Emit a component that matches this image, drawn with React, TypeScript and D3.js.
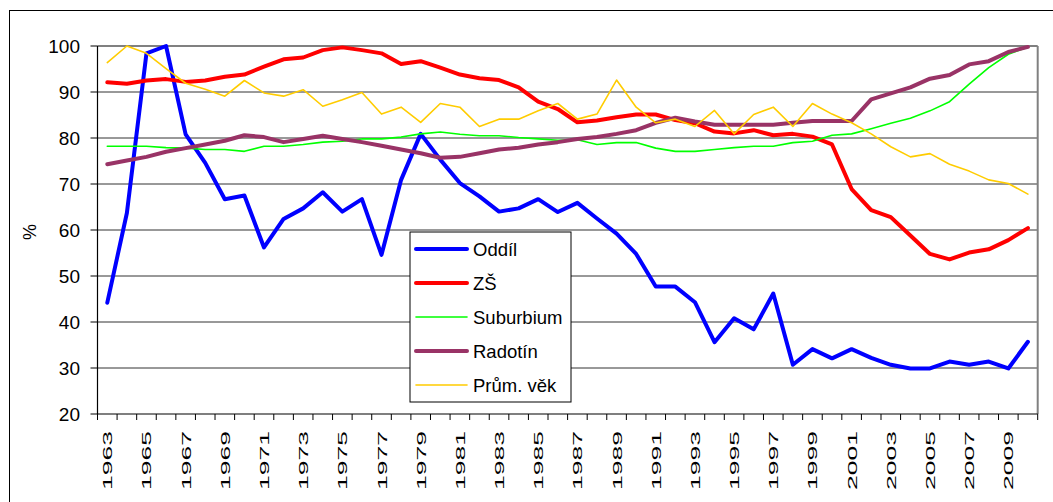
import React from 'react';
import * as d3 from 'd3';

// data
const years = d3.range(1963, 2011);

const oddil = [44.2, 63.7, 98.4, 100, 80.8, 74.6, 66.7, 67.5, 56.2, 62.4, 64.7, 68.2, 64.0, 66.7, 54.6, 70.9, 80.9, 75.3, 70.2, 67.3, 64.0, 64.7, 66.7, 63.9, 65.9, 62.5, 59.2, 54.8, 47.7, 47.7, 44.3, 35.6, 40.8, 38.4, 46.2, 30.7, 34.1, 32.1, 34.1, 32.2, 30.7, 29.9, 29.9, 31.4, 30.7, 31.4, 29.9, 35.7];
const zs = [92.1, 91.8, 92.5, 92.8, 92.2, 92.5, 93.3, 93.8, 95.5, 97.1, 97.5, 99.1, 99.7, 99.1, 98.4, 96.1, 96.7, 95.3, 93.8, 93.0, 92.6, 91.0, 87.9, 86.3, 83.4, 83.8, 84.5, 85.1, 85.1, 83.9, 83.2, 81.4, 81.0, 81.7, 80.6, 80.9, 80.3, 78.6, 68.9, 64.3, 62.8, 58.8, 54.8, 53.6, 55.1, 55.8, 57.8, 60.4];
const suburbium = [78.2, 78.2, 78.2, 77.9, 77.8, 77.5, 77.5, 77.1, 78.2, 78.2, 78.6, 79.1, 79.3, 79.8, 79.8, 80.2, 80.9, 81.3, 80.8, 80.5, 80.5, 80.1, 79.8, 79.5, 79.6, 78.6, 79.0, 79.0, 77.8, 77.1, 77.1, 77.5, 77.9, 78.2, 78.2, 79.0, 79.3, 80.6, 80.9, 82.0, 83.2, 84.3, 85.9, 87.9, 91.7, 95.3, 98.2, 99.8];
const radotin = [74.3, 75.1, 75.9, 77.0, 77.8, 78.6, 79.4, 80.6, 80.2, 79.1, 79.8, 80.5, 79.8, 79.1, 78.3, 77.5, 76.7, 75.7, 75.9, 76.7, 77.5, 77.9, 78.6, 79.1, 79.8, 80.2, 80.9, 81.7, 83.3, 84.4, 83.6, 82.9, 82.9, 82.9, 82.9, 83.3, 83.7, 83.7, 83.7, 88.4, 89.7, 91.0, 92.9, 93.7, 96.0, 96.7, 98.7, 99.8];
const prumVek = [96.4, 100, 98.4, 95.1, 91.9, 90.6, 89.1, 92.5, 89.8, 89.1, 90.5, 86.9, 88.3, 89.9, 85.2, 86.7, 83.4, 87.5, 86.7, 82.5, 84.1, 84.1, 85.9, 87.5, 84.1, 85.2, 92.6, 86.7, 83.3, 84.1, 82.5, 86.0, 80.9, 85.1, 86.7, 82.5, 87.5, 85.2, 83.3, 80.9, 78.1, 75.9, 76.6, 74.3, 72.8, 70.9, 70.1, 67.8];

const yTicks = [20, 30, 40, 50, 60, 70, 80, 90, 100];

const series = [
  {name: 'Oddíl', values: oddil, color: '#0000ff', width: 4},
  {name: 'ZŠ', values: zs, color: '#ff0000', width: 4},
  {name: 'Suburbium', values: suburbium, color: '#00ff00', width: 1.6},
  {name: 'Radotín', values: radotin, color: '#993366', width: 4},
  {name: 'Prům. věk', values: prumVek, color: '#ffcc00', width: 1.6},
];

// layout
const W = 1053, H = 502;
const left = 97.5, right = 1037.7, top = 46, bottom = 414;

export default function App() {
  const x = d3.scaleBand<number>().domain(years).range([left, right]);
  const y = d3.scaleLinear().domain([20, 100]).range([bottom, top]);
  const cx = (yr: number) => (x(yr) as number) + x.bandwidth() / 2;

  const line = (vals: number[]) =>
    d3.line<number>()
      .x((_, i) => cx(years[i]))
      .y(d => y(d))(vals) as string;

  const boundaries = d3.range(years.length + 1).map(i => left + i * x.bandwidth());

  const legX = 410, legY = 232, legW = 161, legH = 170, rowH = 34;

  return (
    <div style={{position: 'absolute', left: 0, top: 0}}>
      <svg width={W} height={H} style={{display: 'block', fontFamily: 'Liberation Sans, Arial, sans-serif'}}>
        <rect x={0} y={0} width={W} height={H} fill="#fff" />
        <rect x={9.5} y={10.5} width={W + 10} height={H + 10} fill="none" stroke="#000" strokeWidth={1} />

        {/* grid */}
        {yTicks.filter(t => t > 20 && t < 100).map(t => (
          <line key={t} x1={left} x2={right} y1={y(t)} y2={y(t)} stroke="#333" strokeWidth={1} />
        ))}
        <line x1={left} x2={right} y1={y(100)} y2={y(100)} stroke="#808080" strokeWidth={2} />
        <line x1={right} x2={right} y1={top} y2={bottom} stroke="#808080" strokeWidth={2} />

        {/* y axis */}
        <line x1={left} x2={left} y1={top} y2={bottom} stroke="#000" strokeWidth={1.2} />
        {yTicks.map(t => (
          <g key={t}>
            <line x1={left - 7} x2={left} y1={y(t)} y2={y(t)} stroke="#000" />
            <text x={80} y={y(t) + 6.5} textAnchor="end" fontSize={19} fill="#000">{t}</text>
          </g>
        ))}
        <text transform={`translate(36,232) rotate(-90)`} textAnchor="middle" fontSize={18}>%</text>

        {/* x axis */}
        <line x1={left} x2={right} y1={bottom} y2={bottom} stroke="#000" strokeWidth={1.2} />
        {boundaries.map((b, i) => (
          <line key={i} x1={b} x2={b} y1={bottom} y2={bottom + 6} stroke="#000" />
        ))}
        {years.filter((_, i) => i % 2 === 0).map(yr => (
          <text key={yr} transform={`translate(${cx(yr) + 5},${431}) rotate(-90)`} textAnchor="end"
            fontSize={13.5} textLength={59} lengthAdjust="spacingAndGlyphs">{yr}</text>
        ))}

        {/* legend */}
        <rect x={legX} y={legY} width={legW} height={legH} fill="#fff" stroke="#000" strokeWidth={1} />

        {/* series */}
        {series.map(s => (
          <path key={s.name} d={line(s.values)} fill="none" stroke={s.color} strokeWidth={s.width}
            strokeLinejoin="round" strokeLinecap="round" />
        ))}

        {series.map((s, i) => (
          <g key={s.name}>
            <line x1={legX + 6} x2={legX + 57} y1={legY + 17 + i * rowH} y2={legY + 17 + i * rowH}
              stroke={s.color} strokeWidth={s.width} strokeLinecap="round" />
            <text x={legX + 63} y={legY + 23.5 + i * rowH} fontSize={18.5}>{s.name}</text>
          </g>
        ))}
      </svg>
    </div>
  );
}
